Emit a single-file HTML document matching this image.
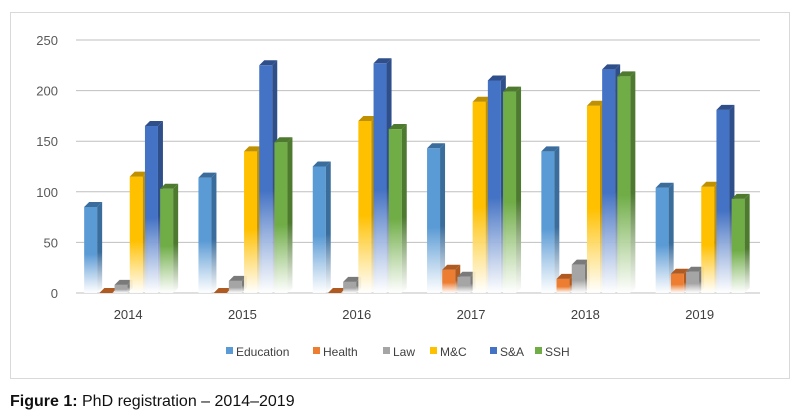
<!DOCTYPE html>
<html><head><meta charset="utf-8"><style>
body{margin:0;background:#fff;width:800px;height:415px;overflow:hidden;font-family:"Liberation Sans",sans-serif}
#cap{position:absolute;left:10px;top:393px;font-size:16px;color:#111}
</style></head><body>
<svg id="chart" width="800" height="390" style="position:absolute;left:0;top:0" font-family="Liberation Sans, sans-serif">
<defs id="defs"></defs>
<rect x="10.5" y="12.5" width="779" height="366" fill="#fff" stroke="#d9d9d9"/>
<g id="grid"></g><g id="bars"></g><g id="xlab"></g><g id="legend"></g>
</svg>
<div id="cap"><b>Figure 1:</b> PhD registration – 2014–2019</div>
<script>
const categories=["2014","2015","2016","2017","2018","2019"];
const seriesNames=["Education","Health","Law","M&C","S&A","SSH"];
const education=[85,114,125,143,140,104];
const health=[0,0,0,23,14,19];
const law=[8,12,11,16,28,21];
const mc=[115,140,170,189,185,105];
const sa=[165,225,227,210,221,181];
const ssh=[103,149,162,199,214,93];
const yTicks=[0,50,100,150,200,250];
const series=[education,health,law,mc,sa,ssh];
const colors=["#5b9bd5","#ed7d31","#a5a5a5","#ffc000","#4472c4","#70ad47"];
const dark=["#3a6d9c","#ae5a21","#7a7a7a","#bf9000","#2f4f8a","#4e7a30"];
const NS="http://www.w3.org/2000/svg";
const y0=293,yTop=40,left=71,right=760,gw=114.3;
const y=v=>y0-(v/250)*(y0-yTop);
const gx=i=>left+gw*i+gw/2;
function mk(t,a,p){const e=document.createElementNS(NS,t);for(const k in a)e.setAttribute(k,a[k]);p.appendChild(e);return e;}
const defs=document.getElementById('defs');
colors.forEach((c,i)=>{const g=mk('linearGradient',{id:'g'+i,x1:0,y1:0,x2:0,y2:1},defs);
mk('stop',{offset:'0','stop-color':c},g);mk('stop',{offset:'0.55','stop-color':c},g);mk('stop',{offset:'1','stop-color':'#fff','stop-opacity':'0.9'},g);
const d=mk('linearGradient',{id:'d'+i,x1:0,y1:0,x2:0,y2:1},defs);
mk('stop',{offset:'0','stop-color':dark[i]},d);mk('stop',{offset:'0.55','stop-color':dark[i]},d);mk('stop',{offset:'1','stop-color':'#fff','stop-opacity':'0.9'},d);});
const grid=document.getElementById('grid');
yTicks.forEach(t=>{const l=mk('line',{x1:76,x2:right,y1:y(t),y2:y(t),stroke:'#bfbfbf','stroke-width':1},grid);

const tx=mk('text',{x:58,y:y(t)+5,'text-anchor':'end','font-size':13,fill:'#595959'},grid);tx.textContent=t;
});
const bars=document.getElementById('bars');
const bw=13,dp=5;
categories.forEach((c,i)=>{
 series.forEach((s,j)=>{const v=s[i];const x=gx(i)-44+j*15.2;const yt=y(v);
  const g=mk('g',{},bars);
  if(v>0){mk('rect',{x:x,y:yt,width:bw,height:y0-yt,fill:'url(#g'+j+')'},g);
  mk('polygon',{points:`${x+bw},${yt} ${x+bw+dp},${yt-dp} ${x+bw+dp},${y0-dp} ${x+bw},${y0}`,fill:'url(#d'+j+')'},g);}
  mk('polygon',{points:`${x},${yt} ${x+dp},${yt-dp} ${x+bw+dp},${yt-dp} ${x+bw},${yt}`,fill:dark[j]},g);
 });
 const t=mk('text',{x:gx(i),y:319,'text-anchor':'middle','font-size':13,fill:'#404040'},document.getElementById('xlab'));t.textContent=c;
 
});
const lg=document.getElementById('legend');
const lx=[226,313,383,430,490,535];
seriesNames.forEach((n,j)=>{const g=mk('g',{},lg);
 mk('rect',{x:lx[j],y:347,width:7,height:7,fill:colors[j]},g);
 const t=mk('text',{x:lx[j]+10,y:356,'font-size':12,fill:'#404040'},g);t.textContent=n;});
</script>
</body></html>
